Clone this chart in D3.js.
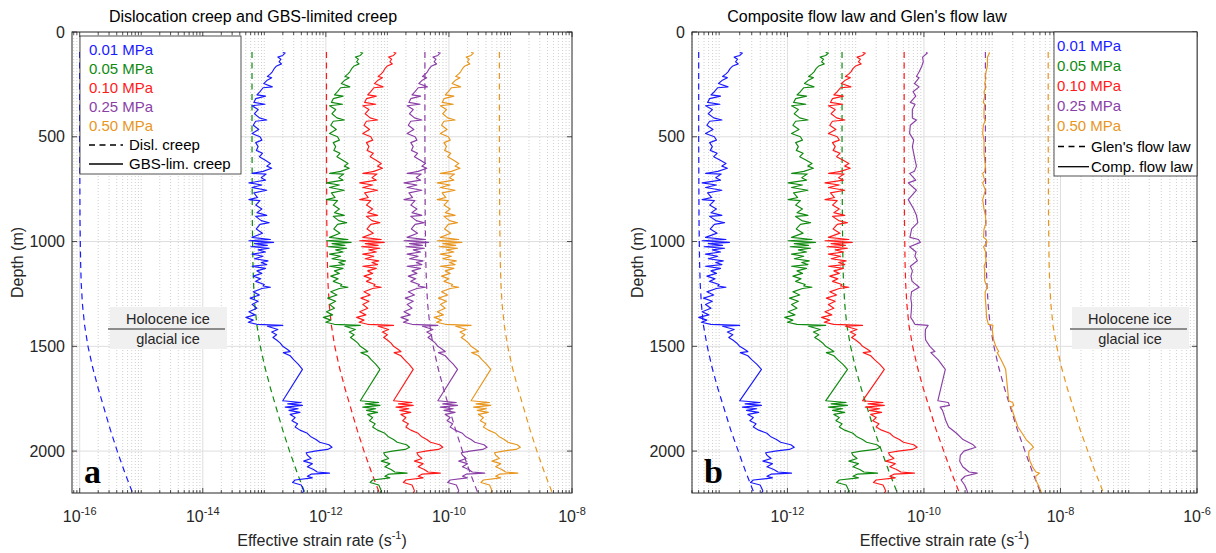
<!DOCTYPE html>
<html><head><meta charset="utf-8">
<script src="https://cdn.jsdelivr.net/npm/d3@7"></script>
<style>
body{margin:0;background:#fff;}
svg{display:block;font-family:"Liberation Sans",Arial,Helvetica,sans-serif;}
</style></head><body>
<svg id="chart" width="1216" height="553"></svg>
<script>
// ---------------- DATA (strain rates stored as log10 of s^-1) ----------------
const stressLabels = ["0.01 MPa", "0.05 MPa", "0.10 MPa", "0.25 MPa", "0.50 MPa"];
const seriesColors = ["#1a1aff", "#108a10", "#ff1a1a", "#8a3fa6", "#e8961e"];
const yTickValues = [0, 500, 1000, 1500, 2000];
const xTicksA = [1e-16, 1e-14, 1e-12, 1e-10, 1e-8];
const xTicksB = [1e-12, 1e-10, 1e-8, 1e-6];

// depths (m) of the GBS-limited creep profiles
const depthGBS = [98,100,112,120,130,142,152,162,175,190,200,212,218,232,246,262,266,285,300,306,318,336,345,352,370,390,410,420,426,445,465,484,500,516,528,547,565,579,595,611,628,640,650,665,675,678,695,707,720,730,742,755,768,790,800,805,826,845,862,875,880,900,910,918,940,960,980,990,996,1004,1010,1018,1025,1032,1040,1050,1060,1070,1082,1092,1100,1110,1118,1128,1140,1152,1165,1178,1190,1205,1212,1218,1224,1240,1255,1270,1285,1300,1318,1335,1350,1362,1375,1385,1395,1400,1404,1420,1432,1445,1458,1470,1485,1500,1512,1525,1530,1545,1565,1585,1610,1760,1768,1775,1782,1790,1798,1806,1815,1825,1840,1855,1870,1885,1900,1915,1930,1945,1958,1970,1982,1992,2000,2008,2020,2035,2048,2060,2075,2088,2100,2105,2110,2120,2128,2138,2150,2162,2175,2190,2200];

const gbsBlue = [-12.70,-12.66,-12.70,-12.78,-12.73,-12.76,-12.72,-12.80,-12.84,-12.87,-12.90,-12.95,-12.88,-12.96,-13.01,-12.87,-13.02,-13.07,-13.12,-12.98,-13.14,-13.17,-12.99,-13.20,-13.10,-13.16,-13.08,-12.96,-13.14,-13.18,-13.09,-13.20,-13.07,-13.04,-13.14,-13.10,-13.13,-13.03,-13.08,-12.99,-12.90,-12.96,-12.88,-13.02,-13.20,-12.97,-13.05,-12.98,-13.25,-13.04,-13.20,-12.96,-13.17,-13.11,-13.25,-13.07,-13.14,-13.04,-13.12,-12.96,-13.14,-13.05,-12.92,-13.07,-13.13,-13.03,-13.20,-12.90,-13.25,-12.85,-13.16,-12.95,-13.22,-12.92,-13.10,-12.98,-13.20,-13.02,-13.16,-12.94,-13.05,-12.96,-13.20,-12.98,-13.12,-13.04,-13.18,-13.06,-13.14,-13.00,-13.02,-12.90,-13.04,-13.18,-13.08,-13.23,-13.10,-13.20,-13.12,-13.25,-13.15,-13.30,-13.18,-13.26,-13.12,-12.70,-12.95,-12.78,-12.88,-12.80,-12.86,-12.80,-12.74,-12.70,-12.64,-12.58,-12.69,-12.58,-12.52,-12.45,-12.38,-12.70,-12.40,-12.62,-12.38,-12.66,-12.45,-12.60,-12.42,-12.58,-12.50,-12.55,-12.46,-12.50,-12.42,-12.30,-12.25,-12.16,-12.10,-11.95,-11.90,-11.97,-12.18,-12.32,-12.30,-12.24,-12.36,-12.22,-12.30,-12.20,-12.14,-11.94,-12.24,-12.30,-12.22,-12.50,-12.54,-12.40,-12.38,-12.36,-12.38];

const gbsGreen = [-11.44,-11.40,-11.44,-11.52,-11.47,-11.50,-11.46,-11.54,-11.58,-11.61,-11.64,-11.69,-11.62,-11.70,-11.75,-11.61,-11.76,-11.81,-11.86,-11.72,-11.88,-11.91,-11.73,-11.94,-11.84,-11.90,-11.82,-11.70,-11.88,-11.92,-11.83,-11.94,-11.81,-11.78,-11.88,-11.84,-11.87,-11.77,-11.82,-11.73,-11.64,-11.70,-11.62,-11.76,-11.94,-11.71,-11.79,-11.72,-11.99,-11.78,-11.94,-11.70,-11.91,-11.85,-11.99,-11.81,-11.88,-11.78,-11.86,-11.70,-11.88,-11.79,-11.66,-11.81,-11.87,-11.77,-11.94,-11.64,-11.99,-11.59,-11.90,-11.69,-11.96,-11.66,-11.84,-11.72,-11.94,-11.76,-11.90,-11.68,-11.79,-11.70,-11.94,-11.72,-11.86,-11.78,-11.92,-11.80,-11.88,-11.74,-11.76,-11.64,-11.78,-11.92,-11.82,-11.97,-11.84,-11.94,-11.86,-11.99,-11.89,-12.04,-11.92,-12.00,-11.86,-11.44,-11.69,-11.52,-11.62,-11.54,-11.60,-11.54,-11.48,-11.44,-11.38,-11.32,-11.43,-11.32,-11.26,-11.19,-11.12,-11.44,-11.14,-11.36,-11.12,-11.40,-11.19,-11.34,-11.16,-11.32,-11.24,-11.29,-11.20,-11.24,-11.16,-11.04,-10.99,-10.90,-10.84,-10.69,-10.64,-10.71,-10.92,-11.06,-11.04,-10.98,-11.10,-10.96,-11.04,-10.94,-10.88,-10.68,-10.98,-11.04,-10.96,-11.24,-11.28,-11.14,-11.12,-11.10,-11.12];

const gbsRed = [-10.90,-10.86,-10.90,-10.98,-10.93,-10.96,-10.92,-11.00,-11.04,-11.07,-11.10,-11.15,-11.08,-11.16,-11.21,-11.07,-11.22,-11.27,-11.32,-11.18,-11.34,-11.37,-11.19,-11.40,-11.30,-11.36,-11.28,-11.16,-11.34,-11.38,-11.29,-11.40,-11.27,-11.24,-11.34,-11.30,-11.33,-11.23,-11.28,-11.19,-11.10,-11.16,-11.08,-11.22,-11.40,-11.17,-11.25,-11.18,-11.45,-11.24,-11.40,-11.16,-11.37,-11.31,-11.45,-11.27,-11.34,-11.24,-11.32,-11.16,-11.34,-11.25,-11.12,-11.27,-11.33,-11.23,-11.40,-11.10,-11.45,-11.05,-11.36,-11.15,-11.42,-11.12,-11.30,-11.18,-11.40,-11.22,-11.36,-11.14,-11.25,-11.16,-11.40,-11.18,-11.32,-11.24,-11.38,-11.26,-11.34,-11.20,-11.22,-11.10,-11.24,-11.38,-11.28,-11.43,-11.30,-11.40,-11.32,-11.45,-11.35,-11.50,-11.38,-11.46,-11.32,-10.90,-11.15,-10.98,-11.08,-11.00,-11.06,-11.00,-10.94,-10.90,-10.84,-10.78,-10.89,-10.78,-10.72,-10.65,-10.58,-10.90,-10.60,-10.82,-10.58,-10.86,-10.65,-10.80,-10.62,-10.78,-10.70,-10.75,-10.66,-10.70,-10.62,-10.50,-10.45,-10.36,-10.30,-10.15,-10.10,-10.17,-10.38,-10.52,-10.50,-10.44,-10.56,-10.42,-10.50,-10.40,-10.34,-10.14,-10.44,-10.50,-10.42,-10.70,-10.74,-10.60,-10.58,-10.56,-10.58];

const gbsPurple = [-10.18,-10.14,-10.18,-10.26,-10.21,-10.24,-10.20,-10.28,-10.32,-10.35,-10.38,-10.43,-10.36,-10.44,-10.49,-10.35,-10.50,-10.55,-10.60,-10.46,-10.62,-10.65,-10.47,-10.68,-10.58,-10.64,-10.56,-10.44,-10.62,-10.66,-10.57,-10.68,-10.55,-10.52,-10.62,-10.58,-10.61,-10.51,-10.56,-10.47,-10.38,-10.44,-10.36,-10.50,-10.68,-10.45,-10.53,-10.46,-10.73,-10.52,-10.68,-10.44,-10.65,-10.59,-10.73,-10.55,-10.62,-10.52,-10.60,-10.44,-10.62,-10.53,-10.40,-10.55,-10.61,-10.51,-10.68,-10.38,-10.73,-10.33,-10.64,-10.43,-10.70,-10.40,-10.58,-10.46,-10.68,-10.50,-10.64,-10.42,-10.53,-10.44,-10.68,-10.46,-10.60,-10.52,-10.66,-10.54,-10.62,-10.48,-10.50,-10.38,-10.52,-10.66,-10.56,-10.71,-10.58,-10.68,-10.60,-10.73,-10.63,-10.78,-10.66,-10.74,-10.60,-10.18,-10.43,-10.26,-10.36,-10.28,-10.34,-10.28,-10.22,-10.18,-10.12,-10.06,-10.17,-10.06,-10.00,-9.93,-9.86,-10.18,-9.88,-10.10,-9.86,-10.14,-9.93,-10.08,-9.90,-10.06,-9.98,-10.03,-9.94,-9.98,-9.90,-9.78,-9.73,-9.64,-9.58,-9.43,-9.38,-9.45,-9.66,-9.80,-9.78,-9.72,-9.84,-9.70,-9.78,-9.68,-9.62,-9.42,-9.72,-9.78,-9.70,-9.98,-10.02,-9.88,-9.86,-9.84,-9.86];

const gbsOrange = [-9.64,-9.60,-9.64,-9.72,-9.67,-9.70,-9.66,-9.74,-9.78,-9.81,-9.84,-9.89,-9.82,-9.90,-9.95,-9.81,-9.96,-10.01,-10.06,-9.92,-10.08,-10.11,-9.93,-10.14,-10.04,-10.10,-10.02,-9.90,-10.08,-10.12,-10.03,-10.14,-10.01,-9.98,-10.08,-10.04,-10.07,-9.97,-10.02,-9.93,-9.84,-9.90,-9.82,-9.96,-10.14,-9.91,-9.99,-9.92,-10.19,-9.98,-10.14,-9.90,-10.11,-10.05,-10.19,-10.01,-10.08,-9.98,-10.06,-9.90,-10.08,-9.99,-9.86,-10.01,-10.07,-9.97,-10.14,-9.84,-10.19,-9.79,-10.10,-9.89,-10.16,-9.86,-10.04,-9.92,-10.14,-9.96,-10.10,-9.88,-9.99,-9.90,-10.14,-9.92,-10.06,-9.98,-10.12,-10.00,-10.08,-9.94,-9.96,-9.84,-9.98,-10.12,-10.02,-10.17,-10.04,-10.14,-10.06,-10.19,-10.09,-10.24,-10.12,-10.20,-10.06,-9.64,-9.89,-9.72,-9.82,-9.74,-9.80,-9.74,-9.68,-9.64,-9.58,-9.52,-9.63,-9.52,-9.46,-9.39,-9.32,-9.64,-9.34,-9.56,-9.32,-9.60,-9.39,-9.54,-9.36,-9.52,-9.44,-9.49,-9.40,-9.44,-9.36,-9.24,-9.19,-9.10,-9.04,-8.89,-8.84,-8.91,-9.12,-9.26,-9.24,-9.18,-9.30,-9.16,-9.24,-9.14,-9.08,-8.88,-9.18,-9.24,-9.16,-9.44,-9.48,-9.34,-9.32,-9.30,-9.32];

// depths (m) of the dashed flow-law profiles
const depthDash = [95,500,900,1100,1200,1300,1400,1500,1600,1700,1800,1900,2000,2100,2200];
const dislBlue   = [-16.00,-16.00,-15.995,-15.985,-15.975,-15.955,-15.92,-15.865,-15.79,-15.70,-15.60,-15.50,-15.39,-15.27,-15.14];
const dislGreen  = [-13.20,-13.20,-13.195,-13.185,-13.175,-13.155,-13.12,-13.065,-12.99,-12.90,-12.80,-12.70,-12.59,-12.47,-12.34];
const dislRed    = [-11.99,-11.99,-11.985,-11.975,-11.965,-11.945,-11.91,-11.855,-11.78,-11.69,-11.59,-11.49,-11.38,-11.26,-11.13];
const dislPurple = [-10.39,-10.39,-10.385,-10.375,-10.365,-10.345,-10.31,-10.255,-10.18,-10.09,-9.99,-9.89,-9.78,-9.66,-9.53];
const dislOrange = [-9.18,-9.18,-9.175,-9.165,-9.155,-9.135,-9.10,-9.045,-8.97,-8.88,-8.78,-8.68,-8.57,-8.45,-8.32];
const glenBlue   = [-13.30,-13.30,-13.295,-13.287,-13.278,-13.26,-13.23,-13.175,-13.105,-13.02,-12.925,-12.83,-12.72,-12.61,-12.49];
const glenGreen  = [-11.20,-11.20,-11.195,-11.187,-11.178,-11.16,-11.13,-11.075,-11.005,-10.92,-10.825,-10.73,-10.62,-10.51,-10.39];
const glenRed    = [-10.29,-10.29,-10.285,-10.277,-10.268,-10.25,-10.22,-10.165,-10.095,-10.01,-9.915,-9.82,-9.71,-9.60,-9.48];
const glenPurple = [-9.10,-9.10,-9.095,-9.087,-9.078,-9.06,-9.03,-8.975,-8.905,-8.82,-8.725,-8.63,-8.52,-8.41,-8.29];
const glenOrange = [-8.18,-8.18,-8.175,-8.167,-8.158,-8.14,-8.11,-8.055,-7.985,-7.90,-7.805,-7.71,-7.60,-7.49,-7.37];

// composite flow law at 0.25 and 0.50 MPa (panel b)
const depthComp = [98,100,120,142,162,190,212,218,246,262,285,306,336,345,370,410,420,445,484,516,547,579,611,640,665,675,707,720,755,800,845,875,910,940,980,990,1004,1025,1050,1070,1092,1118,1140,1165,1190,1218,1240,1270,1300,1335,1362,1395,1400,1420,1445,1470,1500,1525,1530,1565,1610,1760,1768,1782,1790,1806,1825,1855,1885,1915,1945,1970,1982,2000,2020,2048,2075,2100,2105,2120,2138,2162,2190,2200];
const compPurple = [-9.97,-9.95,-10.02,-10.01,-10.03,-10.07,-10.11,-10.07,-10.14,-10.07,-10.16,-10.12,-10.20,-10.13,-10.17,-10.17,-10.11,-10.20,-10.21,-10.15,-10.17,-10.15,-10.13,-10.11,-10.14,-10.21,-10.12,-10.23,-10.11,-10.23,-10.15,-10.11,-10.09,-10.18,-10.205,-10.08,-10.053,-10.21,-10.115,-10.133,-10.096,-10.199,-10.169,-10.19,-10.174,-10.069,-10.182,-10.193,-10.18,-10.186,-10.194,-10.132,-9.939,-9.978,-9.981,-9.975,-9.914,-9.838,-9.899,-9.791,-9.687,-9.797,-9.644,-9.626,-9.763,-9.728,-9.709,-9.679,-9.639,-9.523,-9.428,-9.279,-9.24,-9.415,-9.467,-9.476,-9.432,-9.338,-9.22,-9.40,-9.456,-9.404,-9.366,-9.364];
const compOrange = [-9.05,-9.04,-9.07,-9.07,-9.07,-9.09,-9.10,-9.09,-9.11,-9.09,-9.12,-9.11,-9.13,-9.11,-9.12,-9.12,-9.10,-9.13,-9.14,-9.12,-9.12,-9.12,-9.11,-9.10,-9.11,-9.14,-9.11,-9.14,-9.10,-9.14,-9.12,-9.10,-9.09,-9.12,-9.127,-9.087,-9.077,-9.127,-9.096,-9.101,-9.088,-9.119,-9.11,-9.113,-9.108,-9.07,-9.103,-9.102,-9.094,-9.087,-9.083,-9.056,-8.99,-8.999,-8.99,-8.979,-8.947,-8.905,-8.927,-8.868,-8.803,-8.758,-8.70,-8.684,-8.727,-8.705,-8.686,-8.656,-8.623,-8.561,-8.503,-8.423,-8.396,-8.462,-8.466,-8.446,-8.41,-8.359,-8.309,-8.362,-8.363,-8.325,-8.288,-8.279];

// ---------------- DRAWING ----------------
const svg = d3.select("#chart");
const TOP = 32, BOTTOM = 493;
const AXIS = "#262626";
const yScale = d3.scaleLinear().domain([0, 2200]).range([TOP, BOTTOM]);
const rate = v => Math.pow(10, v);

function panel(cfg) {
  const x = d3.scaleLog().domain(cfg.xDomain).range([cfg.left, cfg.right]);
  const y = yScale;
  const g = svg.append("g");
  const clipId = "clip" + cfg.id;
  svg.append("clipPath").attr("id", clipId).append("rect")
    .attr("x", cfg.left).attr("y", TOP).attr("width", cfg.right - cfg.left).attr("height", BOTTOM - TOP);

  const lo = Math.floor(Math.log10(cfg.xDomain[0]));
  const hi = Math.round(Math.log10(cfg.xDomain[1]));
  const majorExp = cfg.xTicks.map(t => Math.round(Math.log10(t)));
  const minor = [];
  for (let k = lo; k < hi; k++) for (let m = 1; m <= 9; m++) {
    if (m === 1 && majorExp.includes(k)) continue;
    const v = m * Math.pow(10, k);
    if (v < cfg.xDomain[0] * 0.999 || v > cfg.xDomain[1] * 1.001) continue;
    minor.push(v);
  }
  g.append("g").selectAll("line").data(minor).join("line")
    .attr("x1", d => x(d)).attr("x2", d => x(d)).attr("y1", TOP).attr("y2", BOTTOM)
    .attr("stroke", "#c4c4c4").attr("stroke-width", 0.8).attr("stroke-dasharray", "1,2");
  g.append("g").selectAll("line").data(cfg.xTicks.filter(t => x(t) > cfg.left + 1 && x(t) < cfg.right - 1)).join("line")
    .attr("x1", d => x(d)).attr("x2", d => x(d)).attr("y1", TOP).attr("y2", BOTTOM)
    .attr("stroke", "#dedede").attr("stroke-width", 1);
  g.append("g").selectAll("line").data(yTickValues.filter(v => v > 0)).join("line")
    .attr("x1", cfg.left).attr("x2", cfg.right).attr("y1", d => y(d)).attr("y2", d => y(d))
    .attr("stroke", "#dedede").attr("stroke-width", 1);

  const line = d3.line().x(d => x(rate(d[1]))).y(d => y(d[0]));
  const lg = g.append("g").attr("clip-path", `url(#${clipId})`);
  cfg.dashed.forEach((s, i) => {
    lg.append("path").datum(d3.zip(s.depth, s.values)).attr("d", line)
      .attr("fill", "none").attr("stroke", seriesColors[i]).attr("stroke-width", 1.2)
      .attr("stroke-dasharray", "6,4.5");
  });
  cfg.solid.forEach((s, i) => {
    lg.append("path").datum(d3.zip(s.depth, s.values)).attr("d", line)
      .attr("fill", "none").attr("stroke", seriesColors[i]).attr("stroke-width", 1.15)
      .attr("stroke-linejoin", "round");
  });

  const tk = g.append("g").attr("stroke", AXIS).attr("stroke-width", 0.8);
  minor.forEach(v => {
    tk.append("line").attr("x1", x(v)).attr("x2", x(v)).attr("y1", BOTTOM).attr("y2", BOTTOM - 3);
    tk.append("line").attr("x1", x(v)).attr("x2", x(v)).attr("y1", TOP).attr("y2", TOP + 3);
  });
  cfg.xTicks.forEach(v => {
    tk.append("line").attr("x1", x(v)).attr("x2", x(v)).attr("y1", BOTTOM).attr("y2", BOTTOM - 5);
    tk.append("line").attr("x1", x(v)).attr("x2", x(v)).attr("y1", TOP).attr("y2", TOP + 5);
  });
  yTickValues.forEach(v => {
    tk.append("line").attr("x1", cfg.left).attr("x2", cfg.left + 5).attr("y1", y(v)).attr("y2", y(v));
    tk.append("line").attr("x1", cfg.right).attr("x2", cfg.right - 5).attr("y1", y(v)).attr("y2", y(v));
  });
  g.append("rect").attr("x", cfg.left).attr("y", TOP).attr("width", cfg.right - cfg.left).attr("height", BOTTOM - TOP)
    .attr("fill", "none").attr("stroke", AXIS).attr("stroke-width", 1);

  cfg.xTicks.forEach(v => {
    const e = Math.round(Math.log10(v));
    const t = g.append("text").attr("x", x(v)).attr("y", 522).attr("text-anchor", "middle")
      .attr("font-size", 16).attr("fill", AXIS);
    t.append("tspan").text("10");
    t.append("tspan").attr("dy", -7.5).attr("font-size", 11).text(String(e));
  });
  yTickValues.forEach(v => {
    g.append("text").attr("x", cfg.left - 7).attr("y", y(v) + 5.5).attr("text-anchor", "end")
      .attr("font-size", 16).attr("fill", AXIS).text(v);
  });
  g.append("text").attr("transform", `translate(${cfg.left - 49},${(TOP + BOTTOM) / 2}) rotate(-90)`)
    .attr("text-anchor", "middle").attr("font-size", 16).attr("fill", AXIS).text("Depth (m)");
  const xl = g.append("text").attr("x", (cfg.left + cfg.right) / 2).attr("y", 546).attr("text-anchor", "middle")
    .attr("font-size", 16).attr("fill", AXIS);
  xl.append("tspan").text("Effective strain rate (s");
  xl.append("tspan").attr("dy", -7).attr("font-size", 11).text("-1");
  xl.append("tspan").attr("dy", 7).text(")");
  g.append("text").attr("x", cfg.titleX).attr("y", 22).attr("text-anchor", "middle")
    .attr("font-size", 16).attr("fill", "#000").text(cfg.title);

  g.append("text").attr("x", cfg.left + 12).attr("y", 483)
    .attr("font-family", "'Liberation Serif','Times New Roman',serif").attr("font-weight", "bold")
    .attr("font-size", 34).attr("fill", "#000").text(cfg.letter);

  const an = cfg.annot;
  g.append("rect").attr("x", an.x - 58).attr("y", 307).attr("width", 117).attr("height", 42).attr("fill", "#f0f0f0");
  g.append("text").attr("x", an.x).attr("y", 323.5).attr("text-anchor", "middle").attr("font-size", 14.5).attr("fill", AXIS).text("Holocene ice");
  g.append("line").attr("x1", an.x - 60).attr("x2", an.x + 57).attr("y1", 329).attr("y2", 329).attr("stroke", "#8c8c8c").attr("stroke-width", 2);
  g.append("text").attr("x", an.x).attr("y", 343.5).attr("text-anchor", "middle").attr("font-size", 14.5).attr("fill", AXIS).text("glacial ice");

  const L = cfg.legend;
  const lgd = g.append("g");
  lgd.append("rect").attr("x", L.x).attr("y", L.y).attr("width", L.w).attr("height", L.h)
    .attr("fill", "#fff").attr("stroke", AXIS).attr("stroke-width", 0.8);
  stressLabels.forEach((s, i) => {
    lgd.append("text").attr("x", L.tx).attr("y", L.y0 + i * L.step + 5).attr("font-size", 15)
      .attr("fill", seriesColors[i]).text(s);
  });
  const yd = L.y0 + 5 * L.step, ys = L.y0 + 6 * L.step;
  lgd.append("line").attr("x1", L.lx1).attr("x2", L.lx2).attr("y1", yd).attr("y2", yd)
    .attr("stroke", "#000").attr("stroke-width", 1.3).attr("stroke-dasharray", "6,4.5");
  lgd.append("line").attr("x1", L.lx1).attr("x2", L.lx2).attr("y1", ys).attr("y2", ys)
    .attr("stroke", "#000").attr("stroke-width", 1.3);
  lgd.append("text").attr("x", L.ltx).attr("y", yd + 5).attr("font-size", 15).attr("fill", "#000").text(L.names[0]);
  lgd.append("text").attr("x", L.ltx).attr("y", ys + 5).attr("font-size", 15).attr("fill", "#000").text(L.names[1]);
}

panel({
  id: "a", left: 72, right: 572, xDomain: [7.5e-17, 1e-8], xTicks: xTicksA,
  title: "Dislocation creep and GBS-limited creep", titleX: 253, letter: "a",
  annot: { x: 168 },
  dashed: [dislBlue, dislGreen, dislRed, dislPurple, dislOrange].map(v => ({ depth: depthDash, values: v })),
  solid: [gbsBlue, gbsGreen, gbsRed, gbsPurple, gbsOrange].map(v => ({ depth: depthGBS, values: v })),
  legend: { x: 80, y: 36, w: 161, h: 138, tx: 89, y0: 50, step: 19, lx1: 89, lx2: 123, ltx: 129,
            names: ["Disl. creep", "GBS-lim. creep"] }
});

panel({
  id: "b", left: 692, right: 1197, xDomain: [4e-14, 1e-6], xTicks: xTicksB,
  title: "Composite flow law and Glen's flow law", titleX: 867, letter: "b",
  annot: { x: 1130 },
  dashed: [glenBlue, glenGreen, glenRed, glenPurple, glenOrange].map(v => ({ depth: depthDash, values: v })),
  solid: [
    { depth: depthGBS, values: gbsBlue },
    { depth: depthGBS, values: gbsGreen },
    { depth: depthGBS, values: gbsRed },
    { depth: depthComp, values: compPurple },
    { depth: depthComp, values: compOrange }
  ],
  legend: { x: 1054, y: 32, w: 143, h: 144, tx: 1057, y0: 45.5, step: 20.2, lx1: 1058, lx2: 1089, ltx: 1091,
            names: ["Glen's flow law", "Comp. flow law"] }
});
</script>
</body></html>
